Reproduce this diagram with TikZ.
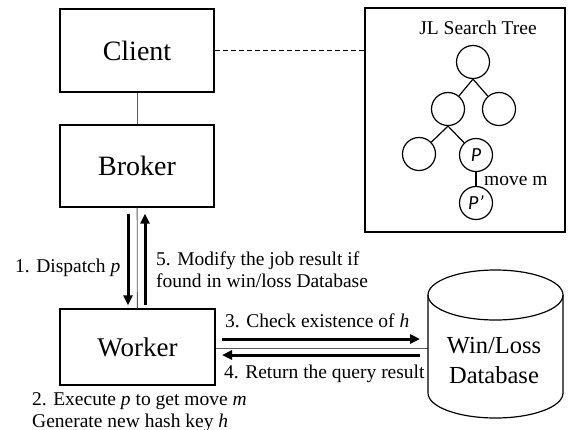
\documentclass[tikz,border=0pt]{standalone}
\usepackage{fontspec}
\setmainfont{Liberation Serif}
\newfontfamily\psans{Carlito}
\usetikzlibrary{arrows.meta,calc}
\begin{document}
\begin{tikzpicture}[x=1pt,y=-1pt,
  box/.style={draw, line width=1.2pt, minimum width=154pt, minimum height=83pt, font=\fontsize{28}{32}\selectfont, inner sep=0pt},
  lbl/.style={font=\fontsize{19.5}{23}\selectfont, inner sep=0pt},
  dblbl/.style={font=\fontsize{24.5}{30}\selectfont, inner sep=0pt},
  thinln/.style={draw=black!65, line width=0.8pt},
  fat/.style={line width=3pt, -{Triangle[length=10pt,width=9pt]}},
  tnode/.style={circle, draw, line width=1.2pt, minimum size=33pt, inner sep=0pt, font=\psans\itshape\fontsize{20}{22}\selectfont},
  tedge/.style={line width=1.2pt},
]
\useasboundingbox (0,0) rectangle (570,429);

% boxes
\node[box] (client) at (137,50.5) {Client};
\node[box, minimum height=82pt] (broker) at (137,166) {Broker};
\node[box, minimum width=155pt, minimum height=76pt, font=\fontsize{27}{32}\selectfont] (worker) at (137.5,347) {Worker};
\node[draw, line width=1.2pt, minimum width=200pt, minimum height=224pt] (tree) at (465,120) {};

% connectors
\draw[line width=0.8pt, dash pattern=on 5pt off 3pt] (client.east) -- (client.east -| tree.west);
\draw[thinln] (client) -- (broker);
\draw[thinln] (broker) -- (worker);
\coordinate (dbw) at (428,348);
\draw[thinln] (worker.east |- dbw) -- (dbw);

% broker/worker arrows
\coordinate (d1) at ($(broker.south)+(-9,6)$);
\coordinate (d2) at ($(worker.north)+(-9.5,-3)$);
\coordinate (u1) at ($(worker.north)+(7.5,-3)$);
\coordinate (u2) at ($(broker.south)+(8,6)$);
\draw[fat] (d1) -- (d2);
\draw[fat] (u1) -- (u2);

% worker/db arrows
\coordinate (r1) at (222,339);
\coordinate (r2) at (420,339);
\coordinate (l1) at (420,355);
\coordinate (l2) at (222,355);
\draw[fat] (r1) -- (r2);
\draw[fat] (l1) -- (l2);

% database cylinder
\draw[line width=1.2pt] (428,295) -- (428,393) arc[start angle=180, end angle=360, x radius=67.5pt, y radius=25pt] -- (563,295);
\draw[line width=1.2pt] (495.5,295) ellipse[x radius=67.5pt, y radius=25pt];
\node[dblbl, anchor=base] (db1) at (494,353) {Win/Loss};
\node[dblbl, anchor=base] (db2) at (494,383) {Database};

% labels
\node[lbl, anchor=base west] (t1) at (15,272) {1. Dispatch \textit{p}};
\node[lbl, anchor=base west] (t5a) at (156,265) {5. Modify the job result if};
\node[lbl, anchor=base west] (t5b) at (156,287) {found in win/loss Database};
\node[lbl, anchor=base west] (t3) at (225,327) {3. Check existence of \textit{h}};
\node[lbl, anchor=base west] (t4) at (224,378) {4. Return the query result};
\node[lbl, anchor=base west] (t2a) at (32,405) {2. Execute \textit{p} to get move \textit{m}};
\node[lbl, anchor=base west] (t2b) at (32,427) {Generate new hash key \textit{h}};

% tree
\node[lbl, anchor=base] (title) at (478,34) {JL Search Tree};
\node[tnode] (root) at (473,62) {};
\node[tnode] (ml) at (448,109) {};
\node[tnode] (mr) at (499,109) {};
\node[tnode] (bl) at (419,154) {};
\node[tnode] (p) at (476,155) {P};
\node[tnode] (pp) at (476,203) {P’};
\draw[tedge] (root.south) -- (ml);
\draw[tedge] (root.south) -- (mr);
\draw[tedge] (ml.south) -- (bl);
\draw[tedge] (ml.south) -- (p);
\draw[tedge] (p) -- (pp);
\node[lbl, anchor=base west] (mv) at (484,185) {move m};
\end{tikzpicture}
\end{document}
